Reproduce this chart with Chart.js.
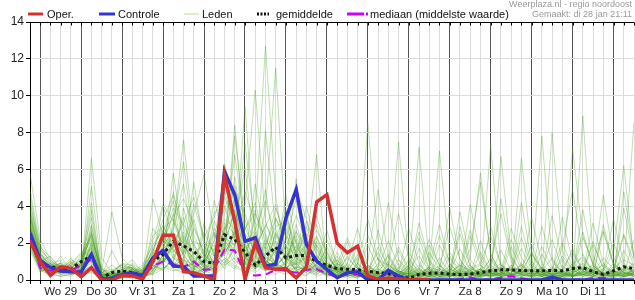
<!DOCTYPE html>
<html><head><meta charset="utf-8">
<script src="https://cdn.jsdelivr.net/npm/chart.js@4.4.1/dist/chart.umd.min.js"></script>
<style>
body{margin:0;background:#fff;}
#wrap{position:relative;width:635px;height:300px;font-family:"Liberation Sans",Arial,sans-serif;overflow:hidden;}
canvas{position:absolute;left:0;top:0;}
.hdr{position:absolute;right:3px;font-size:9px;color:#9a9a9a;line-height:9px;white-space:nowrap;}
.leg{position:absolute;top:7.5px;font-size:11px;color:#111;line-height:12px;white-space:nowrap;}
.sw{position:absolute;top:10px;}
</style></head>
<body><div id="wrap"><canvas id="c" width="635" height="300"></canvas>
<div class="hdr" style="top:0px">Weerplaza.nl - regio noordoost</div>
<div class="hdr" style="top:10px">Gemaakt: di 28 jan 21:11</div>
<svg class="sw" style="left:28px" width="16" height="8"><line x1="0" y1="4" x2="15" y2="4" stroke="#d43131" stroke-width="3"/></svg>
<div class="leg" style="left:47px">Oper.</div>
<svg class="sw" style="left:99px" width="17" height="8"><line x1="0" y1="4" x2="16" y2="4" stroke="#3434d0" stroke-width="3"/></svg>
<div class="leg" style="left:118px">Controle</div>
<svg class="sw" style="left:184px" width="16" height="8"><line x1="0" y1="4" x2="15" y2="4" stroke="#b5d9a3" stroke-width="1"/></svg>
<div class="leg" style="left:202px">Leden</div>
<svg class="sw" style="left:257px" width="14" height="8"><line x1="0" y1="4" x2="12" y2="4" stroke="#111" stroke-width="3" stroke-dasharray="2,1.5"/></svg>
<div class="leg" style="left:276px">gemiddelde</div>
<svg class="sw" style="left:347px" width="22" height="8"><line x1="0" y1="4" x2="21" y2="4" stroke="#cc00ff" stroke-width="3" stroke-dasharray="17,2,2,2"/></svg>
<div class="leg" style="left:370px">mediaan (middelste waarde)</div>
</div>
<script>
// 6-hourly steps starting di 28 jan 18:00
const dayLabels = ['Wo 29','Do 30','Vr 31','Za 1','Zo 2','Ma 3','Di 4','Wo 5','Do 6','Vr 7','Za 8','Zo 9','Ma 10','Di 11',''];
const yTicks = [0,2,4,6,8,10,12,14];

const oper = [2.1,1.0,0.25,0.72,0.63,0.18,0.67,0,0,0.25, 0.22,0.05,1.0,2.43,2.43,0.45,0.4,0.22,0,5.68, 3.2,0.04,2.0,0.67,0.58,0.62,0.12,0.7,4.23,4.63, 2.0,1.48,1.84,0.22,0.05,0.1,0.05,0.02,0.02,0.02];
const controle = [2.56,1.06,0.67,0.49,0.45,0.43,1.39,0.04,0.1,0.3, 0.38,0.22,1.2,1.6,0.76,0.72,0.22,0.22,0.22,5.9, 4.63,2.1,2.29,0.76,0.85,3.37,4.9,1.93,1.03,0.58, 0.12,0.4,0.45,0,0,0.52,0.22,0,0,0, 0,0,0,0,0,0,0,0,0,0, 0,0.15,0,0,0,0,0,0,0,0];
const gemiddelde = [2.4,0.9,0.7,0.65,0.6,1.0,1.3,0.12,0.4,0.49, 0.4,0.25,1.03,1.39,2.1,1.85,1.55,1.0,0.9,2.45, 2.2,1.5,0.8,1.3,1.78,1.2,1.33,1.33,1.0,0.8, 0.62,0.58,0.56,0.48,0.4,0.34,0.2,0.1,0.3,0.36, 0.38,0.32,0.3,0.32,0.4,0.5,0.55,0.55,0.52,0.5, 0.5,0.52,0.5,0.62,0.68,0.45,0.3,0.5,0.72,0.62];
const mediaan = [2.3,0.65,0.5,0.55,0.5,0.8,1.1,0.05,0.1,0.25, 0.3,0.15,0.76,1.0,0.86,0.7,1.0,0.55,0.6,1.65, 1.6,0.3,0.25,0.3,0.55,0.5,0.4,0.55,0.6,0.35, 0.15,0.3,0.3,0.05,0.02,0.05,0,0,0,0, 0,0,0.05,0.15,0,0.05,0.12,0.2,0.1,0.02, 0,0,0.02,0,0.05,0.1,0.12,0.02,0,0];

const lid01 = [2.8,0.9,0.6,0.4,0.7,0.5,1.6,0.1,0.3,0.4, 0.5,0.2,1.2,1.5,2.4,1.8,1.2,0.8,0.6,2.8, 3.5,1.2,0.6,1.4,2.1,1.3,1.8,1.0,0.7,0.4, 0.6,0.3,0.5,0.2,0.1,0.3,0.2,0.1,0.4,0.6, 0.3,0.2,0.1,0.5,0.8,0.4,0.2,0.6,0.3,0.1, 0.4,0.7,0.3,0.9,1.2,0.5,0.3,0.6,1.1,0.8];
const lid02 = [3.6,1.4,0.8,1.1,0.6,0.9,4.2,0.2,0.1,0.6, 0.8,0.4,2.1,4.1,3.2,1.6,0.9,1.7,0.5,4.8, 2.9,1.1,3.4,12.7,4.5,1.2,0.8,1.6,2.3,0.9, 0.4,1.2,0.6,0.3,1.8,0.7,0.2,0.0,0.5,1.9, 0.8,0.3,0.6,2.7,1.1,0.4,0.2,0.8,0.3,1.5, 0.6,0.2,0.1,0.4,2.3,0.9,0.3,0.1,0.5,0.7];
const lid03 = [2.1,0.5,0.3,0.6,1.2,0.4,0.8,0.0,0.4,0.3, 0.2,0.5,0.9,2.2,1.4,0.7,0.5,1.1,2.6,1.5, 8.4,2.3,0.9,0.6,1.8,3.1,1.2,0.5,0.3,0.8, 0.5,0.2,0.9,3.3,1.1,0.4,0.6,1.5,0.6,0.2, 0.1,0.4,1.7,0.5,0.2,0.9,3.6,1.0,0.3,0.2, 0.5,1.2,0.4,0.2,0.6,1.9,0.7,0.4,0.2,0.3];
const lid04 = [4.1,1.8,1.2,0.7,0.4,1.1,2.3,0.5,3.7,1.2, 0.6,0.3,0.7,1.3,5.8,2.1,0.6,0.3,1.4,0.9, 1.7,9.4,2.1,1.3,0.8,2.2,4.4,1.5,0.6,0.2, 1.1,0.4,0.2,0.6,0.3,1.4,0.5,0.2,0.1,0.6, 2.4,0.9,0.3,0.2,0.5,1.1,0.4,2.8,1.2,0.4, 0.2,0.5,0.8,0.3,0.1,0.4,1.2,0.6,2.5,1.0];
const lid05 = [1.7,0.6,0.9,0.3,0.5,0.8,1.1,0.2,0.1,0.2, 0.3,0.1,0.6,0.9,1.8,3.4,1.1,0.5,0.8,2.1, 1.5,0.6,1.2,3.8,11.5,2.6,0.9,0.4,1.3,0.7, 0.3,0.6,1.8,0.8,0.4,0.2,0.1,0.6,1.3,0.5, 0.2,0.1,0.4,0.7,0.3,0.2,0.8,0.5,1.7,0.6, 0.3,0.2,0.6,1.5,0.5,0.2,0.1,0.3,0.8,0.4];
const lid06 = [3.0,1.0,0.4,0.8,0.6,0.3,5.1,0.6,0.2,0.1, 0.4,0.7,1.5,0.8,2.9,7.6,2.4,1.3,0.4,1.2, 0.8,0.5,2.6,1.1,0.6,1.5,0.8,3.2,1.4,0.6, 0.2,0.9,0.4,0.2,0.7,2.1,0.8,0.3,0.2,0.4, 0.6,1.5,0.7,0.3,0.1,0.5,0.9,0.3,0.2,0.6, 1.8,0.7,0.3,0.2,0.4,0.8,0.3,0.7,0.4,0.2];
const lid07 = [2.4,0.8,0.5,0.3,0.2,0.6,0.9,0.1,0.0,0.3, 0.6,0.2,0.4,1.1,0.7,1.2,2.8,1.5,0.9,3.6, 4.9,2.4,1.0,0.7,2.5,1.6,0.4,0.2,0.9,2.7, 0.8,0.3,0.1,0.5,0.2,0.3,1.1,0.4,0.2,0.1, 0.3,0.5,0.2,1.2,5.8,1.4,0.4,0.2,0.5,0.3, 0.2,0.4,1.1,0.5,0.3,0.1,0.2,0.9,0.4,0.3];
const lid08 = [5.8,2.2,1.1,0.6,0.8,0.5,2.0,0.4,0.6,0.2, 0.1,0.3,2.8,1.9,1.2,0.9,4.1,2.2,0.7,1.6, 2.0,0.9,0.5,8.1,2.8,1.1,2.4,0.9,0.5,0.3, 1.5,0.5,0.7,0.3,0.1,0.5,0.3,0.8,2.6,1.0, 0.4,0.2,0.6,0.3,0.2,0.8,0.4,0.1,0.3,0.7, 0.4,0.2,1.3,0.6,0.2,0.5,0.3,0.2,0.6,0.9];
const lid09 = [2.6,0.7,0.2,0.5,0.9,1.5,1.3,0.3,0.2,0.5, 0.3,0.4,1.0,2.6,4.3,1.2,0.4,0.6,2.2,5.6, 2.1,1.5,0.8,0.5,0.9,0.6,1.1,2.0,0.6,0.9, 0.5,0.2,0.3,0.7,0.4,0.2,0.5,0.3,0.1,0.2, 0.4,0.3,0.2,0.6,0.9,2.4,0.8,0.3,0.1,0.2, 0.5,0.3,0.2,0.4,0.7,0.3,0.5,1.5,6.2,1.1];
const lid10 = [1.9,0.5,0.6,1.3,0.5,0.2,0.5,0.0,0.1,0.3, 0.5,0.2,0.3,0.6,1.1,2.3,0.8,0.4,0.9,1.4, 2.6,1.1,5.2,2.4,0.8,1.3,0.5,0.8,3.5,1.4, 0.6,0.4,0.2,0.1,0.3,0.6,0.2,0.4,0.8,0.3, 1.2,0.4,0.2,0.1,0.3,0.2,0.6,0.3,0.5,1.4, 0.6,0.3,0.1,0.2,0.5,0.2,0.4,0.3,0.2,0.4];
const lid11 = [3.4,1.3,0.9,0.6,1.0,0.7,2.7,0.2,0.5,0.8, 0.6,0.3,0.5,1.7,0.9,3.9,1.6,0.6,1.2,2.4, 6.8,2.9,1.4,0.5,1.0,2.8,1.5,0.6,0.4,1.1, 0.4,1.3,0.6,0.2,0.4,0.2,0.3,0.1,0.3,0.7, 0.5,0.2,0.4,0.3,0.6,0.3,0.1,0.4,0.8,0.3, 0.2,0.6,2.0,0.7,0.3,0.2,0.4,0.3,0.7,0.5];
const lid12 = [2.2,0.6,0.4,0.2,0.3,0.4,0.6,0.1,0.2,0.1, 0.2,0.1,0.4,0.7,0.5,0.6,0.9,0.5,0.3,0.8, 1.2,0.7,0.4,0.9,0.5,0.3,0.7,0.5,0.2,0.4, 0.1,0.2,0.3,0.1,0.0,0.2,0.1,0.0,2.3,0.6, 0.2,0.1,0.0,0.1,0.2,2.9,0.8,0.2,0.1,0.0, 0.1,0.2,0.1,0.3,3.8,1.0,0.2,0.1,0.3,0.2];
const lid13 = [2.9,1.1,0.7,0.9,0.4,1.0,3.4,0.3,0.2,0.4, 0.9,0.5,1.6,3.0,1.7,0.8,0.5,2.6,1.4,0.6, 1.9,4.1,10.3,3.2,1.5,0.7,0.9,1.2,0.8,0.5, 2.1,0.7,0.3,0.8,0.3,0.1,0.4,0.6,0.3,0.2, 0.7,2.9,1.1,0.4,0.2,0.3,0.5,0.2,0.9,0.4, 0.3,0.1,0.2,0.5,1.4,0.5,0.2,0.4,0.3,0.6];
const lid14 = [1.6,0.4,0.8,0.5,0.7,0.3,0.7,0.2,0.1,0.6, 0.3,0.2,0.8,0.5,1.3,1.9,0.7,0.9,3.2,1.8, 0.9,1.3,0.6,2.2,1.2,4.6,2.0,0.8,0.5,0.3, 0.9,0.5,0.2,0.4,1.2,0.4,0.2,0.1,0.3,0.6, 0.2,0.3,0.9,0.4,0.2,0.6,0.3,0.8,0.4,0.2, 0.7,0.3,0.5,0.2,0.3,0.9,2.7,0.8,0.3,0.2];
const lid15 = [3.8,1.5,0.5,0.7,0.3,0.6,1.8,0.4,0.3,0.2, 0.1,0.4,1.1,2.1,3.6,1.4,0.6,0.4,0.7,3.1, 2.5,0.8,1.7,0.6,3.4,1.8,0.6,1.4,0.9,0.4, 0.3,0.5,1.2,0.5,0.2,0.8,0.4,0.2,0.5,0.3, 0.1,0.2,0.5,0.8,0.3,0.1,0.4,0.6,0.2,0.3, 0.4,8.0,1.6,0.5,0.3,0.2,0.5,0.3,0.1,0.4];
const lid16 = [2.5,0.8,0.6,0.4,0.5,0.9,1.2,0.2,0.4,0.7, 0.4,0.3,0.6,1.0,2.0,0.7,1.5,0.8,0.6,1.9, 3.8,1.6,0.9,1.5,0.7,0.5,1.6,0.9,0.6,1.8, 0.7,0.3,0.4,8.5,2.1,0.6,0.3,0.2,0.4,0.1, 0.3,0.6,0.3,0.2,0.5,0.4,0.2,0.3,0.6,0.2, 0.3,0.5,0.2,0.6,0.9,0.4,0.2,0.5,0.3,0.6];
const lid17 = [4.6,1.7,1.0,0.5,1.1,0.8,2.5,0.3,0.2,0.4, 0.7,0.3,4.4,2.4,1.6,1.1,0.8,0.5,1.7,2.6, 1.4,2.0,0.7,1.8,0.9,1.2,0.5,0.7,1.9,0.8, 0.4,0.6,0.3,0.2,0.5,0.3,1.6,0.5,0.2,0.4, 0.8,0.3,0.1,0.4,0.6,0.2,6.7,1.3,0.4,0.2, 0.1,0.3,0.4,0.2,0.6,0.3,0.1,0.2,0.5,8.6];
const lid18 = [2.0,0.6,0.3,0.2,0.4,0.3,0.4,0.1,0.0,0.1, 0.2,0.1,0.5,0.8,0.6,0.4,0.3,0.6,0.9,1.1, 0.7,0.4,1.0,0.6,0.3,0.8,0.4,0.3,0.6,0.2, 0.3,0.1,0.2,0.4,0.1,0.3,0.2,0.1,0.0,0.2, 0.1,0.0,0.3,0.1,0.2,0.4,0.1,0.2,0.0,0.1, 0.2,0.1,0.3,0.1,0.0,0.2,0.1,0.0,0.2,0.1];
const lid19 = [3.1,1.2,0.7,0.8,0.6,1.2,2.2,0.5,0.3,0.9, 0.6,0.2,0.9,1.8,2.7,5.2,1.8,0.7,0.5,1.5, 2.3,7.4,2.8,1.1,0.6,0.9,3.0,1.3,0.7,0.5, 0.8,2.3,0.9,0.3,0.2,0.4,0.7,0.3,0.1,0.5, 0.3,0.2,0.8,0.5,0.2,0.3,0.7,0.2,0.4,0.9, 0.3,0.2,0.5,0.3,1.1,0.4,0.6,0.3,0.2,0.5];
const lid20 = [2.3,0.7,0.5,0.4,0.3,0.5,1.0,0.2,0.1,0.2, 0.3,0.6,0.7,1.2,0.8,1.5,3.3,1.2,0.8,2.0, 1.1,0.6,1.3,0.8,1.6,0.7,5.5,0.9,0.5,0.6, 0.2,0.4,0.6,0.2,0.9,0.3,0.1,0.7,0.3,0.2, 0.4,0.2,0.3,0.6,0.4,0.2,0.3,0.5,0.3,0.2, 0.6,0.3,0.2,0.8,0.3,0.6,0.4,0.2,0.4,0.3];
const lid21 = [3.3,1.0,1.3,0.6,0.8,0.4,6.6,1.2,0.4,0.3, 0.5,0.2,1.4,0.9,1.9,1.0,0.6,1.4,0.8,2.9, 1.8,1.0,0.6,1.2,0.9,1.9,0.8,0.5,1.2,0.4, 0.6,0.3,0.1,0.6,0.4,0.2,0.5,0.3,0.7,2.2, 0.8,0.3,0.2,0.4,0.3,0.6,0.2,0.4,2.3,0.7, 0.3,0.2,0.4,0.2,0.3,0.7,0.3,0.2,1.6,0.6];
const lid22 = [2.7,0.9,0.4,1.0,0.5,0.7,1.5,0.3,0.2,0.6, 1.1,0.4,0.3,1.4,2.5,1.3,0.7,1.0,1.9,1.3, 2.7,1.4,0.8,2.0,0.6,1.0,2.2,0.7,0.4,0.9, 0.5,0.2,0.4,0.3,0.6,1.3,0.4,0.2,0.3,0.5, 0.2,0.6,0.3,0.2,1.5,0.5,0.3,0.2,0.4,0.6, 0.2,0.4,0.3,7.1,2.4,0.8,0.3,0.5,0.2,0.3];
const lid23 = [1.8,0.5,0.7,0.3,0.6,0.4,0.8,0.1,0.2,0.3, 0.2,0.3,0.8,0.6,1.0,0.5,1.1,0.7,0.4,1.0, 0.6,1.8,0.9,0.5,0.8,0.4,1.0,0.6,0.3,0.7, 0.4,0.3,0.5,0.2,2.7,0.8,0.4,0.2,0.1,0.3, 0.5,3.9,1.1,0.3,0.1,0.4,0.2,0.1,4.2,1.0, 0.4,0.1,0.2,0.3,0.4,0.2,3.0,0.8,0.2,0.4];
const lid24 = [3.5,1.3,0.6,0.5,0.9,0.6,2.9,0.4,0.3,0.2, 0.4,0.8,1.9,2.7,1.5,2.6,0.9,0.6,1.0,4.5, 3.2,1.2,1.9,0.7,2.6,1.0,0.6,1.7,6.8,0.4, 0.9,0.4,0.6,0.4,0.2,0.9,0.3,1.1,0.4,0.2, 0.6,0.4,0.2,0.3,0.5,0.2,0.4,0.7,0.3,0.4, 2.9,1.0,0.4,0.2,0.3,0.5,0.8,0.3,0.6,0.4];
const lid25 = [2.4,0.9,0.5,0.7,0.4,0.6,3.8,0.2,1.6,0.5, 0.3,0.2,0.9,1.6,4.8,2.0,0.8,0.4,0.6,1.8, 5.6,1.9,0.7,1.1,0.5,3.6,1.4,0.5,0.8,0.3, 0.2,0.5,0.3,1.0,4.9,1.2,0.4,0.2,0.6,0.3, 0.1,0.3,3.7,1.1,0.4,0.2,0.3,0.6,0.2,0.4, 7.8,1.1,0.3,0.2,0.5,0.3,0.2,0.4,0.6,0.2];
const lid26 = [3.0,1.1,0.8,0.4,0.6,1.3,1.7,0.3,0.1,0.4, 0.6,0.3,1.3,4.0,2.3,0.9,0.6,1.2,4.3,2.2, 1.3,0.8,3.8,1.6,0.9,0.6,1.3,4.0,1.7,0.6, 0.3,0.7,0.4,0.2,0.3,0.6,7.5,0.9,0.3,0.2, 0.5,0.2,0.4,0.3,0.2,7.3,0.8,0.3,0.5,0.2, 0.3,0.6,0.2,0.3,0.8,0.4,0.2,0.3,3.9,1.2];
const lid27 = [2.2,0.6,0.9,0.5,0.7,0.4,1.4,0.1,0.3,0.2, 0.4,0.5,0.6,1.1,3.1,6.4,2.0,0.7,1.1,0.8, 3.0,6.1,1.5,0.6,0.8,0.5,0.7,0.6,2.1,0.8, 0.3,0.4,0.2,0.5,0.2,0.4,0.3,0.5,7.2,0.9, 0.3,0.2,0.5,0.4,0.3,0.2,0.7,0.3,0.4,0.6, 0.2,0.3,0.5,0.2,8.9,1.3,0.4,0.2,0.3,0.5];
const lid28 = [3.9,1.6,1.1,0.6,0.3,0.9,2.5,0.3,0.2,0.5, 0.7,0.3,1.7,0.9,2.1,1.4,5.3,1.9,0.8,2.3, 1.6,0.9,2.0,4.9,1.5,0.8,1.9,0.7,0.5,0.4, 1.3,0.4,0.2,0.3,0.6,0.3,0.2,0.4,0.2,0.6, 7.0,1.2,0.4,0.2,0.3,0.5,0.2,0.3,0.2,0.4, 0.6,0.3,0.4,0.2,0.3,0.2,0.5,3.3,0.9,0.3];
const lid29 = [2.6,0.8,0.4,0.6,1.0,0.5,1.2,0.4,0.2,0.3, 0.2,0.1,0.5,1.4,0.8,1.1,0.5,3.1,1.3,6.3, 4.0,1.3,0.6,1.0,0.7,1.4,0.6,0.4,0.9,1.6, 0.5,0.3,0.6,0.2,0.1,0.3,0.2,0.3,0.1,0.4, 0.2,0.4,0.2,0.3,0.6,0.3,0.4,0.2,6.6,1.5, 0.4,0.2,0.3,0.6,0.2,0.4,0.3,0.2,0.4,0.3];
const lid30 = [4.3,1.5,0.7,0.9,0.5,0.8,2.1,0.6,0.4,0.3, 0.5,0.2,1.0,2.5,1.2,0.7,0.9,0.6,2.5,1.4, 7.8,3.3,1.2,0.8,0.5,0.9,2.7,1.1,0.6,0.3, 0.7,0.2,0.5,0.3,0.2,0.2,0.5,0.3,0.6,0.2, 0.4,0.7,0.3,0.2,0.4,0.6,0.3,0.2,0.5,0.3, 0.7,0.3,0.2,0.4,0.2,0.6,4.6,1.2,0.4,0.3];
const lid31 = [2.9,1.0,0.6,0.8,0.5,0.7,1.9,0.3,0.2,0.5, 0.4,0.3,1.5,3.3,4.6,2.8,1.3,0.9,2.1,3.9, 5.1,2.7,4.2,1.9,3.3,2.4,1.6,2.9,1.3,0.8, 0.5,1.6,0.7,0.3,0.5,1.0,0.4,2.8,0.9,0.3, 0.2,1.3,0.5,0.3,2.1,0.7,0.3,0.2,0.6,1.9, 0.5,0.3,3.4,1.0,0.4,0.3,0.9,0.4,0.2,0.6];
const lid32 = [3.7,1.2,0.9,0.6,0.7,1.1,2.6,0.4,0.8,0.4, 0.3,0.6,1.1,2.0,3.5,4.4,3.0,1.4,0.8,2.7, 4.4,3.6,1.8,2.9,4.1,1.7,3.5,2.1,0.9,1.3, 0.6,0.4,1.4,0.5,0.3,0.4,1.8,0.6,0.3,1.5, 0.6,0.3,0.4,2.4,0.8,0.3,1.6,0.5,0.3,0.2, 1.4,0.5,0.3,0.6,2.6,0.8,0.3,0.5,0.3,2.2];
const lid33 = [2.5,0.8,0.5,0.5,0.9,0.6,1.4,0.2,0.5,0.8, 0.5,0.4,2.4,2.9,1.9,3.1,4.5,2.3,3.4,5.2, 3.0,2.0,2.7,4.3,2.2,3.8,1.2,0.8,2.4,1.0, 0.4,0.8,0.3,1.9,0.6,0.3,0.5,0.2,1.7,0.6, 0.3,0.5,2.5,0.7,0.3,0.4,0.2,1.8,0.6,0.3, 0.5,2.2,0.6,0.3,0.4,3.1,0.9,0.3,0.2,0.5];
const lid34 = [3.2,1.1,0.7,0.9,0.6,0.5,2.0,0.3,0.3,0.6, 0.7,0.3,0.8,1.9,2.6,2.0,3.6,5.7,2.4,1.7, 2.4,4.8,3.1,2.5,1.4,2.9,5.0,3.3,1.6,0.7, 1.1,0.5,0.4,0.6,1.5,0.5,0.3,0.4,0.2,0.8, 3.0,0.9,0.3,0.5,0.3,1.2,0.4,0.3,0.8,0.4, 0.3,0.6,0.4,1.7,0.5,0.3,0.6,2.0,0.7,0.4];
const lid35 = [2.0,0.7,0.4,0.4,0.5,0.8,1.0,0.2,0.2,0.3, 0.6,0.5,1.3,1.7,2.2,1.5,2.1,1.8,1.3,3.3, 2.8,1.6,2.3,1.5,2.9,3.2,2.0,1.4,1.1,2.2, 0.9,0.6,0.3,2.4,1.1,0.8,3.6,1.2,0.4,0.2, 1.9,0.6,0.3,4.1,1.3,0.5,0.3,2.2,0.8,0.3, 0.2,3.5,1.0,0.4,0.6,0.3,2.6,0.9,0.4,0.2];
const lid36 = [4.9,1.9,0.8,0.6,0.4,0.9,3.0,0.6,0.3,0.2, 0.4,0.2,1.8,2.3,3.9,3.0,1.9,1.1,2.8,2.1, 3.6,2.5,1.6,3.0,2.0,1.1,2.6,1.8,3.0,1.2, 0.7,0.3,0.9,0.4,0.3,0.6,0.3,0.8,0.3,0.5, 0.2,0.4,0.8,0.3,0.6,0.2,0.4,0.3,2.9,0.8, 0.4,0.3,0.2,0.5,0.9,0.4,0.3,0.2,0.5,0.3];
const lid37 = [2.3,0.6,0.8,0.6,0.4,0.6,1.7,0.2,0.4,0.9, 0.8,0.3,0.7,1.2,1.8,2.4,1.4,2.0,1.6,2.3, 1.9,2.8,3.6,2.2,1.3,1.8,1.4,2.5,1.9,0.6, 0.4,0.9,2.8,0.8,0.4,0.3,0.9,0.4,3.1,1.0, 0.6,0.2,2.9,0.8,0.3,0.6,4.4,1.2,0.4,0.5, 0.3,0.2,1.8,4.9,1.3,0.4,0.3,0.5,2.4,0.7];
const lid38 = [3.4,1.4,1.0,0.7,0.8,1.4,2.4,0.4,0.2,0.4, 0.3,0.4,1.0,2.8,3.3,1.9,1.1,1.5,3.7,4.0, 2.2,1.7,2.4,1.7,3.9,2.3,1.0,1.9,2.7,1.5, 0.5,2.1,0.6,0.2,0.8,4.2,1.1,0.5,0.3,0.7, 0.3,0.8,0.4,1.7,5.3,1.4,0.4,0.6,0.3,3.4, 0.9,0.3,0.7,0.2,0.4,2.1,0.6,0.2,4.8,1.3];
const leden = [lid01,lid02,lid03,lid04,lid05,lid06,lid07,lid08,lid09,lid10,lid11,lid12,lid13,lid14,lid15,lid16,lid17,lid18,lid19,lid20,
               lid21,lid22,lid23,lid24,lid25,lid26,lid27,lid28,lid29,lid30,lid31,lid32,lid33,lid34,lid35,lid36,lid37,lid38];

const STEP = 6;       // hours per sample
const XMAX = 354;     // hours shown
const pts = arr => arr.map((v, i) => ({x: i * STEP, y: v}));
const FONT = '"Liberation Sans", Arial, sans-serif';

const datasets = [
  {label:'Oper.', data:pts(oper), borderColor:'#d43131', borderWidth:3.5, order:0},
  {label:'Controle', data:pts(controle), borderColor:'#3434d0', borderWidth:3.5, order:1},
  ...leden.map(m => ({label:'Leden', data:pts(m), borderColor:'rgba(70,158,30,0.34)', borderWidth:1, order:4})),
  {label:'gemiddelde', data:pts(gemiddelde), borderColor:'#1a1a1a', borderWidth:3, borderDash:[3,3], order:2},
  {label:'mediaan (middelste waarde)', data:pts(mediaan), borderColor:'#cc00ff', borderWidth:2, borderDash:[8,5], order:3}
];

const topBorder = {
  id:'topBorder',
  afterDraw(chart){
    const {ctx, chartArea:a, scales:{x}} = chart;
    ctx.save();
    ctx.strokeStyle = '#000'; ctx.lineWidth = 1;
    const yy = Math.round(a.top) + 0.5;
    ctx.beginPath();
    ctx.moveTo(a.left, yy); ctx.lineTo(a.right, yy);
    x.ticks.forEach((t, i) => {
      const px = Math.round(x.getPixelForTick(i)) + 0.5;
      ctx.moveTo(px, yy); ctx.lineTo(px, yy + 3);
    });
    ctx.stroke();
    ctx.restore();
  }
};

new Chart(document.getElementById('c'), {
  type:'line',
  data:{datasets},
  options:{
    responsive:false, animation:false, events:[],
    layout:{padding:{top:22, right:0, left:0, bottom:0}},
    elements:{point:{radius:0}, line:{tension:0, borderCapStyle:'butt', borderJoinStyle:'miter'}},
    plugins:{legend:{display:false}, tooltip:{enabled:false}},
    scales:{
      x:{
        type:'linear', min:0, max:XMAX,
        afterBuildTicks: s => { s.ticks = []; for (let v = 0; v <= XMAX; v += STEP) s.ticks.push({value:v}); },
        afterFit: s => { s.height = 20; },
        ticks:{autoSkip:false, maxRotation:0, minRotation:0, padding:1, color:'#222',
          font:{family:FONT, size:11.5},
          callback: v => ((v + 18) % 24 === 12) ? dayLabels[(v - 18) / 24] : ''},
        grid:{color: c => (c.tick && (c.tick.value + 18) % 24 === 0) ? '#555' : '#dcdcdc',
              lineWidth:1, tickColor:'#000', tickLength:4},
        border:{color:'#000', width:1}
      },
      y:{
        min:0, max:14,
        afterBuildTicks: s => { s.ticks = yTicks.map(v => ({value:v})); },
        afterFit: s => { s.width = 30; },
        ticks:{padding:2, color:'#222', font:{family:FONT, size:12}},
        grid:{color:'#dcdcdc', lineWidth:1, tickColor:'#000', tickLength:4},
        border:{color:'#000', width:1}
      }
    }
  },
  plugins:[topBorder]
});
</script>
</body></html>
